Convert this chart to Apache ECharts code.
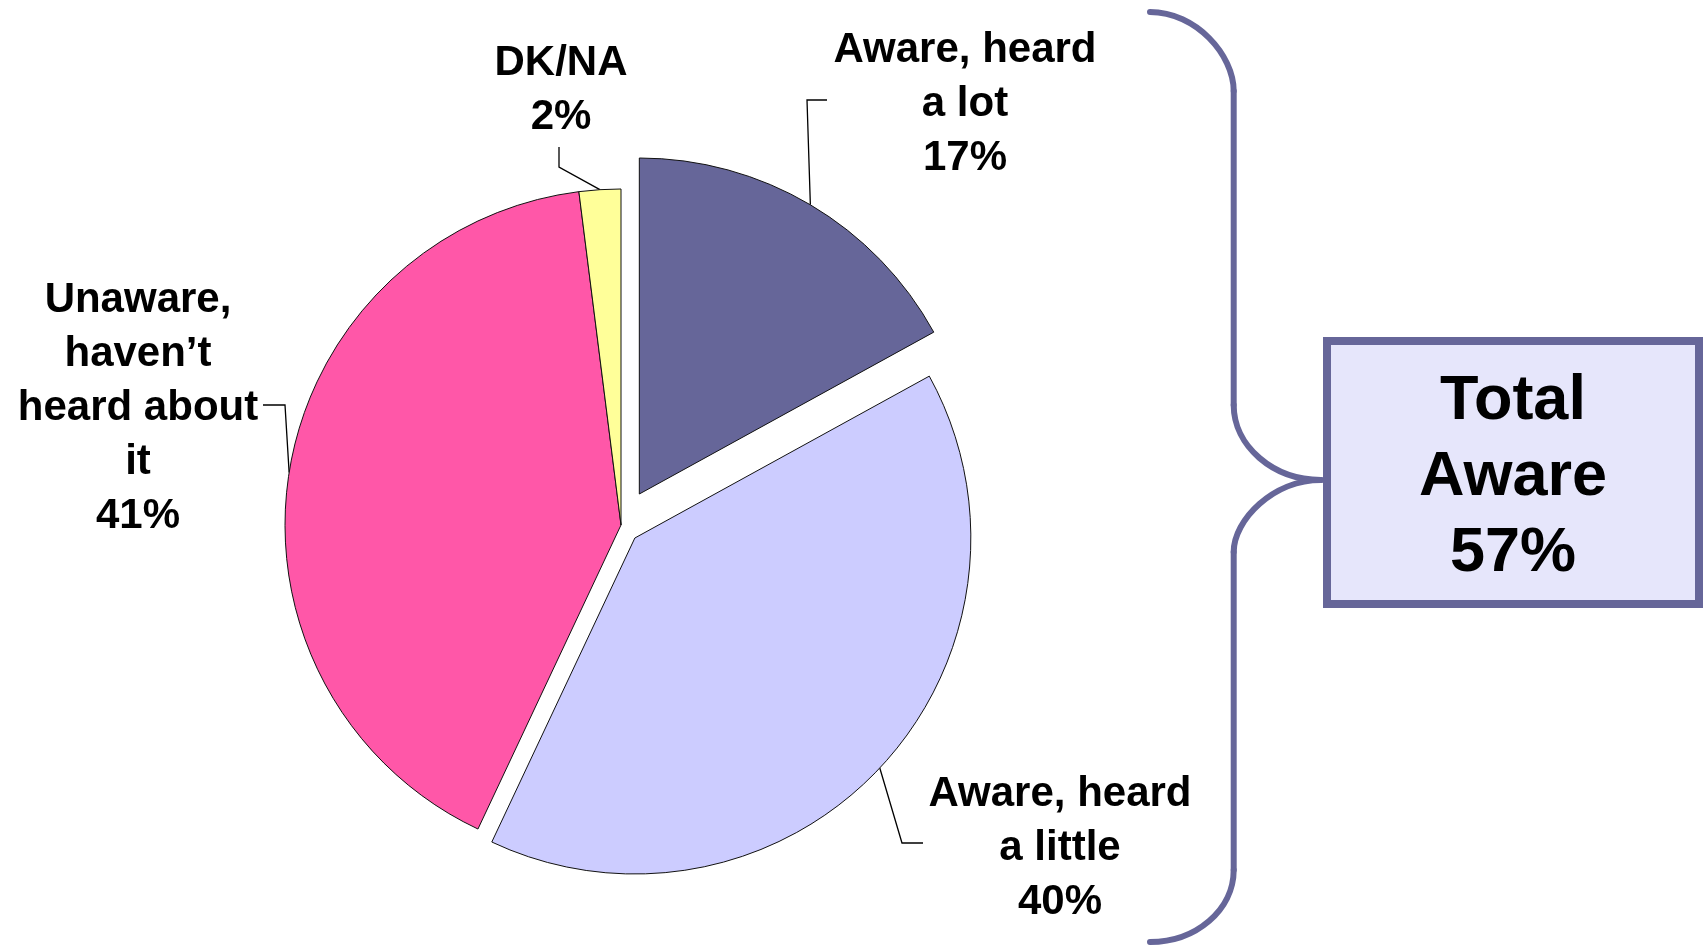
<!DOCTYPE html>
<html>
<head>
<meta charset="utf-8">
<title>Awareness</title>
<script src="https://cdn.jsdelivr.net/npm/echarts@6/dist/echarts.min.js"></script>
<style>
  html, body { margin: 0; padding: 0; background: #ffffff; }
  #chart { width: 1704px; height: 947px; }
</style>
</head>
<body>
<div id="chart"></div>
<script>
// Survey answers, in clockwise order from 12 o'clock
const categories = [
  'Aware, heard\na lot',
  'Aware, heard\na little',
  'Unaware,\nhaven\u2019t\nheard about\nit',
  'DK/NA'
];
const shares = [17, 40, 41, 2];            // percent of respondents
const awareIdx = [0, 1];                   // answers summed into "Total Aware"

// Styling
const sliceColors = ['#666699', '#CCCCFF', '#FF57A8', '#FFFF99'];
const explode = [36, 19, 0, 0];            // pixels each slice is pulled out
const pieCenter = [621, 525];
const pieRadius = 336;
const FONT = '"Liberation Sans", Arial, Helvetica, sans-serif';
const accent = '#666699';

// Label blocks: centre of the text and the bend/end of its leader line
const labelSpots = [
  { at: [965, 104],  bend: [807, 100], end: [827, 100] },
  { at: [1060, 848], bend: [902, 843], end: [923, 843] },
  { at: [138, 408],  bend: [285, 405], end: [263, 405] },
  { at: [561, 90],   bend: [559, 167], end: [559, 147] }
];

const total = shares.reduce((a, b) => a + b, 0);
const totalAware = awareIdx.reduce((s, i) => s + shares[i], 0);

// mid angle (degrees clockwise from top) of slice i
function midAngle(i) {
  let before = 0;
  for (let k = 0; k < i; k++) before += shares[k];
  return (before + shares[i] / 2) / total * 360;
}

function seriesFor(i) {
  const a = midAngle(i) * Math.PI / 180;
  const c = [
    pieCenter[0] + explode[i] * Math.sin(a),
    pieCenter[1] - explode[i] * Math.cos(a)
  ];
  return {
    type: 'pie',
    silent: true,
    animation: false,
    center: c,
    radius: pieRadius,
    startAngle: 90,
    clockwise: true,
    avoidLabelOverlap: false,
    emphasis: { disabled: true },
    label: {
      position: 'outside',
      formatter: p => p.name + '\n' + p.value + '%',
      fontFamily: FONT,
      fontWeight: 'bold',
      fontSize: 42,
      lineHeight: 54,
      color: '#000000'
    },
    labelLine: {
      show: true,
      length: 20,
      length2: 20,
      lineStyle: { color: '#000000', width: 1.3 }
    },
    labelLayout: function (params) {
      const spot = labelSpots[params.dataIndex];
      const pts = params.labelLinePoints;
      const start = pts && pts[0] ? pts[0] : c;
      return {
        x: spot.at[0],
        y: spot.at[1],
        align: 'center',
        verticalAlign: 'middle',
        labelLinePoints: [start, spot.bend, spot.end]
      };
    },
    data: shares.map((v, j) => ({
      name: categories[j],
      value: v,
      itemStyle: j === i
        ? { color: sliceColors[j], borderColor: '#111111', borderWidth: 1 }
        : { color: 'rgba(0,0,0,0)', borderWidth: 0 },
      label: { show: j === i },
      labelLine: { show: j === i }
    }))
  };
}

// Curly brace grouping the two "aware" answers
const braceX = 1233.7, tipX = 1321, tipY = 480;
const braceStroke = { stroke: accent, lineWidth: 6, lineCap: 'round', fill: null };
const braceParts = [
  { type: 'bezierCurve', shape: { x1: 1150, y1: 12, cpx1: 1196, cpy1: 12, cpx2: braceX, cpy2: 55, x2: braceX, y2: 91 } },
  { type: 'line', shape: { x1: braceX, y1: 91, x2: braceX, y2: 405 } },
  { type: 'bezierCurve', shape: { x1: braceX, y1: 405, cpx1: braceX, cpy1: 446, cpx2: 1273, cpy2: tipY, x2: tipX, y2: tipY } },
  { type: 'bezierCurve', shape: { x1: tipX, y1: tipY, cpx1: 1273, cpy1: tipY, cpx2: braceX, cpy2: 520, x2: braceX, y2: 552 } },
  { type: 'line', shape: { x1: braceX, y1: 552, x2: braceX, y2: 870 } },
  { type: 'bezierCurve', shape: { x1: braceX, y1: 870, cpx1: braceX, cpy1: 910, cpx2: 1196, cpy2: 942, x2: 1150, y2: 942 } }
].map(p => Object.assign(p, { style: braceStroke, silent: true }));

const chart = echarts.init(document.getElementById('chart'), null, { renderer: 'canvas' });
chart.setOption({
  backgroundColor: '#ffffff',
  animation: false,
  series: shares.map((_, i) => seriesFor(i)),
  graphic: [
    ...braceParts,
    {
      type: 'rect',
      silent: true,
      shape: { x: 1327, y: 341, width: 372, height: 263 },
      style: { fill: '#E6E6FB', stroke: accent, lineWidth: 8 }
    },
    {
      type: 'text',
      silent: true,
      x: 1513,
      y: 478,
      style: {
        text: 'Total\nAware\n' + totalAware + '%',
        fontFamily: FONT,
        fontWeight: 'bold',
        fontSize: 63,
        lineHeight: 76,
        fill: '#000000',
        align: 'center',
        verticalAlign: 'middle'
      }
    }
  ]
});
</script>
</body>
</html>
